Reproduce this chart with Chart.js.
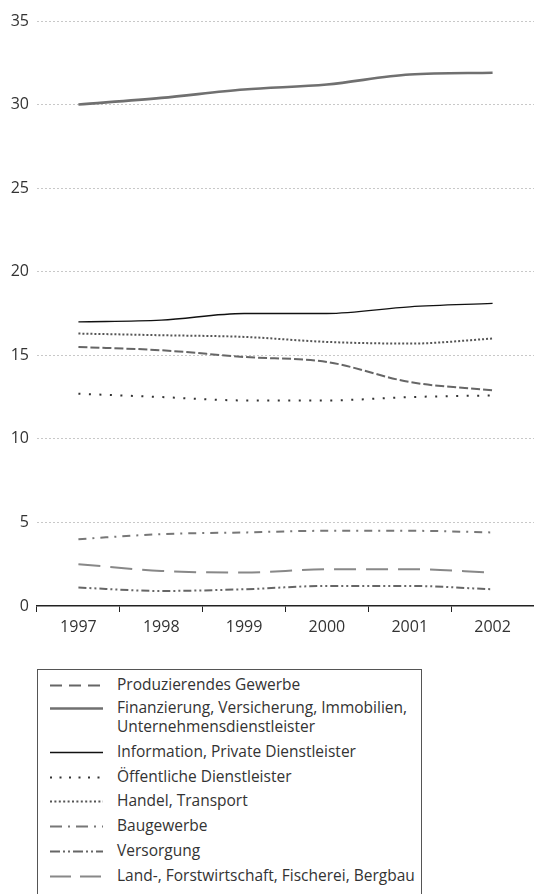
<!DOCTYPE html>
<html>
<head>
<meta charset="utf-8">
<script src="https://cdn.jsdelivr.net/npm/chart.js@4/dist/chart.umd.min.js"></script>
<style>
  html, body { margin: 0; padding: 0; background: #fff; width: 534px; height: 894px; overflow: hidden; }
  #wrap { position: absolute; left: 0; top: 0; width: 534px; height: 650px; }
  #legend { position: absolute; left: 37px; top: 669px; width: 385px; height: 240px; border: 1px solid #555; box-sizing: border-box;
            font-family: "Open Sans", sans-serif; font-size: 15.5px; color: #333; }
  .item { position: absolute; left: 0; }
  .item svg { position: absolute; left: 10px; }
  .item span { position: absolute; left: 79px; top: -1px; white-space: nowrap; line-height: 19px; }
</style>
</head>
<body>
<div id="wrap"><canvas id="c" width="534" height="650"></canvas></div>
<div id="legend"></div>
<script>
const years = ['1997', '1998', '1999', '2000', '2001', '2002'];
const yTicks = [0, 5, 10, 15, 20, 25, 30, 35];

const labelProduzierend = 'Produzierendes Gewerbe';
const labelFinanz = ['Finanzierung, Versicherung, Immobilien,', 'Unternehmensdienstleister'];
const labelInfo = 'Information, Private Dienstleister';
const labelOeffentlich = 'Öffentliche Dienstleister';
const labelHandel = 'Handel, Transport';
const labelBau = 'Baugewerbe';
const labelVersorgung = 'Versorgung';
const labelLand = 'Land-, Forstwirtschaft, Fischerei, Bergbau';

const produzierend = [15.5, 15.3, 14.9, 14.6, 13.4, 12.9];
const finanz       = [30.0, 30.4, 30.9, 31.2, 31.8, 31.9];
const info         = [17.0, 17.1, 17.5, 17.5, 17.9, 18.1];
const oeffentlich  = [12.7, 12.5, 12.3, 12.3, 12.5, 12.6];
const handel       = [16.3, 16.2, 16.1, 15.8, 15.7, 16.0];
const bau          = [4.0, 4.3, 4.4, 4.5, 4.5, 4.4];
const versorgung   = [1.1, 0.9, 1.0, 1.2, 1.2, 1.0];
const land         = [2.5, 2.1, 2.0, 2.2, 2.2, 2.0];

// styles (kept apart from the data)
const series = [
  { label: labelProduzierend, data: produzierend, color: '#666', width: 2, dash: [9, 3], legDash: [12, 7] },
  { label: labelFinanz, data: finanz, color: '#707070', width: 2.6, dash: [], legDash: [] },
  { label: labelInfo, data: info, color: '#111', width: 1.3, dash: [], legDash: [] },
  { label: labelOeffentlich, data: oeffentlich, color: '#333', width: 2, dash: [2, 8.5], legDash: [2, 7.5] },
  { label: labelHandel, data: handel, color: '#555', width: 2, dash: [2, 2], legDash: [2, 2.4] },
  { label: labelBau, data: bau, color: '#777', width: 2, dash: [8, 6, 2, 6], legDash: [12, 6, 2, 6] },
  { label: labelVersorgung, data: versorgung, color: '#666', width: 2, dash: [8, 3, 2, 3, 2, 3], legDash: [10, 3, 2, 3, 2, 3] },
  { label: labelLand, data: land, color: '#888', width: 2, dash: [22, 10], legDash: [21, 9] }
];

const chart = new Chart(document.getElementById('c'), {
  type: 'line',
  data: {
    labels: years,
    datasets: series.map(s => ({
      label: Array.isArray(s.label) ? s.label.join(' ') : s.label,
      data: s.data,
      borderColor: s.color,
      borderWidth: s.width,
      borderDash: s.dash,
      borderCapStyle: 'butt',
      pointRadius: 0,
      fill: false,
      cubicInterpolationMode: 'monotone'
    }))
  },
  options: {
    responsive: false,
    animation: false,
    layout: { padding: { top: 21, right: 0, left: 0, bottom: 0 } },
    plugins: { legend: { display: false }, tooltip: { enabled: false } },
    scales: {
      x: {
        offset: true,
        grid: { offset: true, drawOnChartArea: false, drawTicks: true, tickLength: 6, color: '#222', lineWidth: 1 },
        border: { display: true, color: '#222', width: 1.5 },
        ticks: { color: '#333', font: { family: 'Open Sans', size: 16 }, padding: 6, maxRotation: 0 },
        afterFit: s => { s.height = 44; }
      },
      y: {
        min: 0, max: 35,
        afterBuildTicks: s => { s.ticks = yTicks.map(v => ({ value: v })); },
        grid: { drawTicks: false, color: ctx => ctx.tick && ctx.tick.value === 0 ? 'rgba(0,0,0,0)' : '#c8c8c8', lineWidth: 1 },
        border: { display: false, dash: [2, 2] },
        ticks: { color: '#333', font: { family: 'Open Sans', size: 16 }, padding: 8 },
        afterFit: s => { s.width = 37; }
      }
    }
  }
});

// HTML legend built from the series styles
const legend = document.getElementById('legend');
const rowTops = [6, 29, 73, 98, 122, 147, 172, 197];
series.forEach((s, i) => {
  const lines = Array.isArray(s.label) ? s.label : [s.label];
  const div = document.createElement('div');
  div.className = 'item';
  div.style.top = rowTops[i] + 'px';
  const svg = document.createElementNS('http://www.w3.org/2000/svg', 'svg');
  svg.setAttribute('width', '56'); svg.setAttribute('height', '19');
  const ln = document.createElementNS('http://www.w3.org/2000/svg', 'line');
  ln.setAttribute('x1', '2'); ln.setAttribute('x2', '55');
  ln.setAttribute('y1', '9.5'); ln.setAttribute('y2', '9.5');
  ln.setAttribute('stroke', s.color);
  ln.setAttribute('stroke-width', s.width);
  if (s.legDash.length) ln.setAttribute('stroke-dasharray', s.legDash.join(' '));
  svg.appendChild(ln);
  div.appendChild(svg);
  const sp = document.createElement('span');
  sp.innerHTML = lines.join('<br>');
  div.appendChild(sp);
  legend.appendChild(div);
});
</script>
</body>
</html>
